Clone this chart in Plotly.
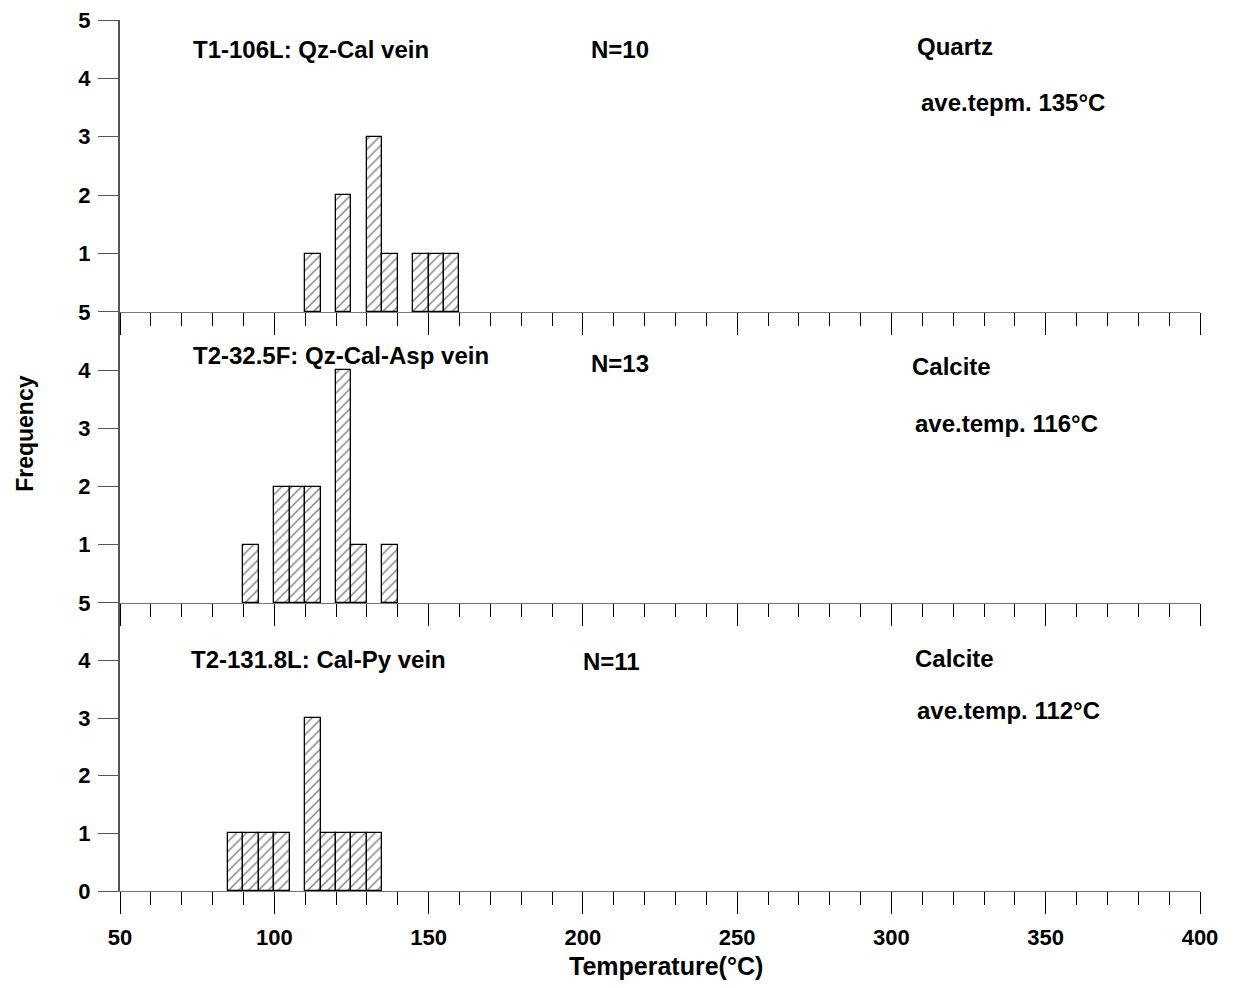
import plotly.graph_objects as go

# ---- data (bin start temperatures, 5 °C bins) ----
bins1 = [110, 120, 130, 135, 145, 150, 155]
counts1 = [1, 2, 3, 1, 1, 1, 1]
bins2 = [90, 100, 105, 110, 120, 125, 135]
counts2 = [1, 2, 2, 2, 4, 1, 1]
bins3 = [85, 90, 95, 100, 110, 115, 120, 125, 130]
counts3 = [1, 1, 1, 1, 3, 1, 1, 1, 1]
bin_width = 5

titles = ["T1-106L: Qz-Cal vein", "T2-32.5F: Qz-Cal-Asp vein", "T2-131.8L: Cal-Py vein"]
ns = ["N=10", "N=13", "N=11"]
minerals = ["Quartz", "Calcite", "Calcite"]
aves = ["ave.tepm. 135°C", "ave.temp. 116°C", "ave.temp. 112°C"]
x_ticks = [50, 100, 150, 200, 250, 300, 350, 400]

FONT = "Liberation Sans, Arial, sans-serif"

fig = go.Figure()
series = [(bins1, counts1), (bins2, counts2), (bins3, counts3)]
for i, (b, c) in enumerate(series):
    sfx = "" if i == 0 else str(i + 1)
    fig.add_trace(go.Bar(
        x=b, y=c, width=bin_width, offset=0,
        xaxis="x" + sfx, yaxis="y" + sfx,
        marker=dict(color="white",
                    line=dict(color="black", width=1.3),
                    pattern=dict(shape="/", fgcolor="black", bgcolor="white",
                                 size=7, solidity=0.2)),
        showlegend=False,
    ))

domains = [[0.6648, 1.0], [0.3307, 0.6648], [0.0, 0.3307]]
ytickvals = [[1, 2, 3, 4, 5], [1, 2, 3, 4, 5], [0, 1, 2, 3, 4, 5]]

layout = dict(
    width=1231, height=980,
    margin=dict(l=112, r=39, t=12, b=97, autoexpand=False),
    paper_bgcolor="white", plot_bgcolor="white",
    font=dict(family=FONT, size=22, color="black"),
    bargap=0,
)

tickfont = dict(family=FONT, size=22, color="black", weight="bold")

for i in range(3):
    sfx = "" if i == 0 else str(i + 1)
    layout["xaxis" + sfx] = dict(
        range=[50, 400], anchor="y" + sfx, domain=[0, 1], automargin=False,
        tickmode="array", tickvals=x_ticks,
        ticks="outside", ticklen=22, tickwidth=1.3, tickcolor="black",
        showticklabels=(i == 2), ticklabeloverflow="allow", ticklabelstandoff=5,
        minor=dict(dtick=10, tick0=50, ticks="outside", ticklen=13,
                   tickwidth=1.3, tickcolor="black", showgrid=False),
        showgrid=False, zeroline=False,
        showline=True, linecolor="#777", linewidth=1,
        tickfont=tickfont,
    )
    layout["yaxis" + sfx] = dict(
        range=[0, 5], domain=domains[i], anchor="x" + sfx, automargin=False,
        tickmode="array", tickvals=ytickvals[i],
        ticks="outside", ticklen=20, tickwidth=1, tickcolor="#555",
        ticklabelstandoff=3, ticklabeloverflow="allow",
        showgrid=False, zeroline=False,
        showline=True, linecolor="#555", linewidth=2,
        tickfont=tickfont,
    )

fig.update_layout(**layout)

# annotation positions (data coordinates per panel)
title_pos = [(73, 4.49), (73, 4.26), (72.5, 4.01)]
n_pos = [(202, 4.49), (202, 4.12), (199.5, 3.99)]
min_pos = [(307.5, 4.54), (306, 4.07), (307, 4.03)]
ave_pos = [(309, 3.58), (307, 3.08), (307.5, 3.14)]

annfont = dict(family=FONT, size=24, color="black", weight="bold")
for i in range(3):
    sfx = "" if i == 0 else str(i + 1)
    for txt, (ax_, ay_) in [(titles[i], title_pos[i]), (ns[i], n_pos[i]),
                            (minerals[i], min_pos[i]), (aves[i], ave_pos[i])]:
        fig.add_annotation(x=ax_, y=ay_, xref="x" + sfx, yref="y" + sfx,
                           text=txt, showarrow=False, xanchor="left", yanchor="middle",
                           font=annfont)

fig.add_annotation(x=0.506, y=-0.086, xref="paper", yref="paper",
                   text="Temperature(°C)", showarrow=False,
                   xanchor="center", yanchor="middle",
                   font=dict(family=FONT, size=25, color="black", weight="bold"))
fig.add_annotation(x=-0.088, y=0.526, xref="paper", yref="paper",
                   text="Frequency", showarrow=False, textangle=-90,
                   xanchor="center", yanchor="middle",
                   font=dict(family=FONT, size=23, color="black", weight="bold"))

fig.write_html("out.html")
